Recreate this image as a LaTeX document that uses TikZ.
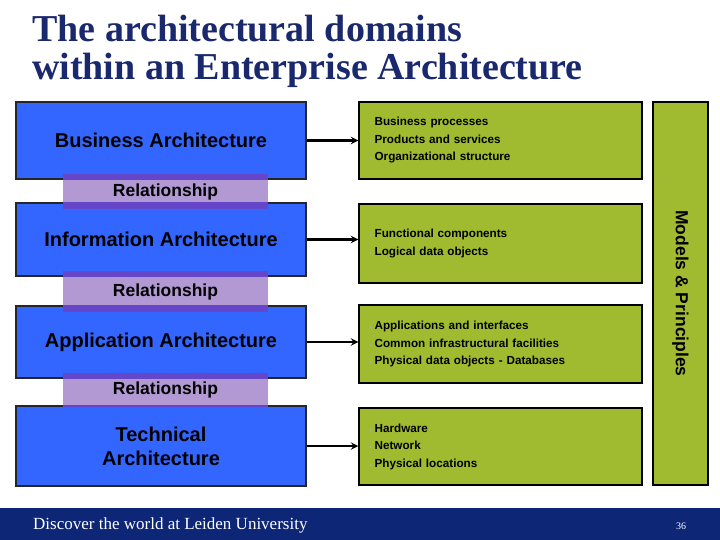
\documentclass[tikz,border=0pt]{standalone}
\usepackage{fontspec}
\setmainfont{Liberation Serif}
\setsansfont{Liberation Sans}
\usetikzlibrary{positioning}

\definecolor{titleblue}{RGB}{26,40,110}
\definecolor{footerblue}{RGB}{14,38,118}
\definecolor{boxblue}{RGB}{51,102,255}
\definecolor{boxgreen}{RGB}{160,187,48}
\definecolor{barlav}{RGB}{178,153,212}
\definecolor{barstripe}{RGB}{102,70,200}
\definecolor{bulletgray}{RGB}{175,175,175}

\newcommand{\itm}{{\color{bulletgray}\fontsize{6}{6}\selectfont\textbullet}\hspace{3pt}}

\begin{document}
\begin{tikzpicture}[x=1pt, y=-1pt, >=stealth,
    domainbox/.style={draw=black!85, line width=1.5pt, fill=boxblue, minimum width=290pt,
        font=\sffamily\bfseries\fontsize{20}{24}\selectfont, align=center},
    listbox/.style={draw=black, line width=1.5pt, fill=boxgreen, minimum width=283pt,
        text width=262pt, inner xsep=9pt, align=left,
        font=\sffamily\bfseries\fontsize{11.7}{17.5}\selectfont},
    relbar/.style={fill=barlav, minimum width=205pt, inner sep=0pt},
    reltext/.style={font=\sffamily\bfseries\fontsize{17.5}{20}\selectfont},
    linkarrow/.style={->, line width=2.2pt, black}]
    \useasboundingbox (0,0) rectangle (720,540);
    % Title
    \node[anchor=base west, inner sep=0, text=titleblue, font=\bfseries\fontsize{38}{38}\selectfont] (title1) at (32,42) {The architectural domains};
    \node[anchor=base west, inner sep=0, text=titleblue, font=\bfseries\fontsize{38}{38}\selectfont] (title2) at (32,80) {within an Enterprise Architecture};
    % Domains
    \node[domainbox, minimum height=77pt] (bbus) at (161,140.5) {Business Architecture};
    \node[domainbox, minimum height=73pt] (binf) at (161,239.5) {Information Architecture};
    \node[domainbox, minimum height=72pt] (bapp) at (161,342) {Application Architecture};
    \node[domainbox, minimum height=80pt] (btec) at (161,446) {Technical\\Architecture};
    % Relationships
    \node[relbar, minimum height=35pt] (rel1) at (165.5,191.5) {};
    \node[relbar, minimum height=41pt] (rel2) at (165.5,291.5) {};
    \node[relbar, minimum height=34pt] (rel3) at (165.5,390) {};
    \foreach \r/\u/\d in {rel1/bbus/binf, rel2/binf/bapp, rel3/bapp/btec} {
            \fill[barstripe] (\r.north west) rectangle (\r.east |- \u.south);
            \fill[barstripe] (\r.south west) rectangle (\r.east |- \d.north);
            \node[reltext] (\r-text) at (\r) {Relationship};
        }
    % Contents
    \node[listbox, minimum height=77pt] (gbus) at (500.5,140.5) {\itm Business processes\\\itm Products and services\\\itm Organizational structure};
    \node[listbox, minimum height=79pt] (ginf) at (500.5,243.5) {\itm Functional components\\\itm Logical data objects};
    \node[listbox, minimum height=78pt] (gapp) at (500.5,344) {\itm Applications and interfaces\\\itm Common infrastructural facilities\\\itm Physical data objects - Databases};
    \node[listbox, minimum height=77pt] (gtec) at (500.5,446.5) {\itm Hardware\\\itm Network\\\itm Physical locations};
    \node[draw=black, line width=1.5pt, fill=boxgreen, rotate=-90, minimum width=383pt, minimum height=55pt,
        font=\sffamily\bfseries\fontsize{17.5}{20}\selectfont] (models) at (680.5,293.5) {Models \& Principles};
    % Links
    \foreach \b/\g in {bbus/gbus, binf/ginf, bapp/gapp, btec/gtec} {
            \draw[linkarrow] (\b.east) -- (\b.east -| \g.west);
        }
    % Footer
    \fill[footerblue] (0,508) rectangle (720,540);
    \node[anchor=base west, inner sep=0, text=white, font=\fontsize{17}{17}\selectfont] (foot) at (33,529) {Discover the world at Leiden University};
    \node[anchor=base, inner sep=0, text=white, font=\fontsize{10}{10}\selectfont] (page) at (681,529) {36};
\end{tikzpicture}
\end{document}
